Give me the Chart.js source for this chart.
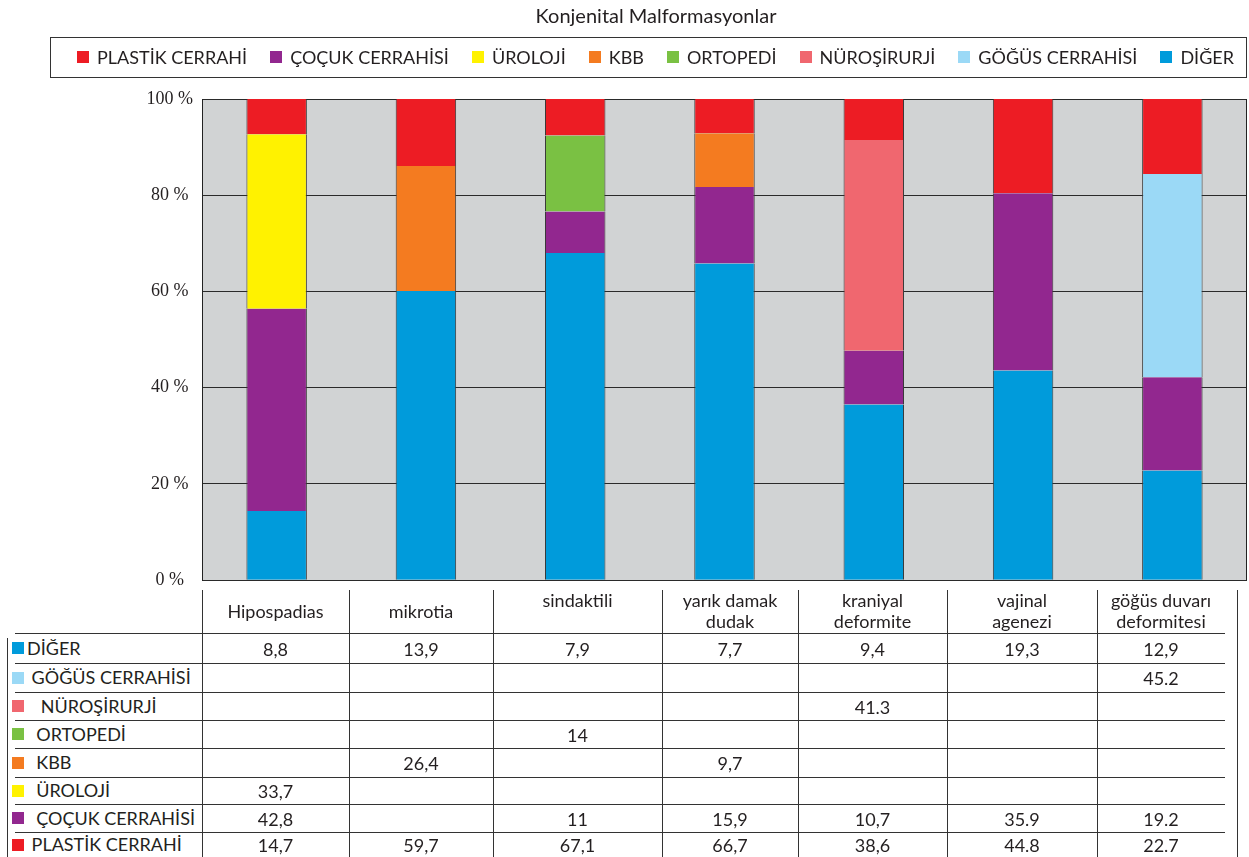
<!DOCTYPE html>
<html><head><meta charset="utf-8">
<script src="https://cdn.jsdelivr.net/npm/chart.js@4.4.0/dist/chart.umd.min.js"></script>
<style>
html,body{margin:0;padding:0;background:#fff;}
#wrap{position:relative;width:1249px;height:857px;overflow:hidden;font-family:Lato,'Open Sans',sans-serif;color:#231F20;}
#c{position:absolute;left:0;top:0;}
#title{position:absolute;left:0;width:1312px;top:3px;text-align:center;font-size:20px;}
#legend{position:absolute;left:50px;top:37px;width:1197px;height:41px;box-sizing:border-box;border:1.5px solid #333;display:flex;align-items:center;justify-content:space-between;padding:0 12px 2px 26px;font-size:18px;}
.li{display:flex;align-items:center;white-space:pre;}
.sw{width:12px;height:12px;margin-right:8px;flex:none;}
.cell{position:absolute;display:flex;align-items:center;justify-content:center;font-size:18px;white-space:pre;text-align:center;line-height:21px;}
.lab{justify-content:flex-start;}
.hl{position:absolute;height:1px;background:#333;}
.vl{position:absolute;width:1px;background:#333;}
</style></head>
<body><div id="wrap">
<canvas id="c" width="1249" height="600"></canvas>
<div id="title">Konjenital Malformasyonlar</div>
<div id="legend"></div>
<div id="table"></div>
</div>
<script>
// ---------- DATA ----------
const categories = ['Hipospadias', 'mikrotia', ['sindaktili', ''], ['yarık damak', 'dudak'], ['kraniyal', 'deformite'], ['vajinal', 'agenezi'], ['göğüs duvarı', 'deformitesi']];

// Bar segments as drawn (% of each bar), bottom to top
const barDiger    = [14.4, 60.1, 68.0, 65.8, 36.5, 43.6, 22.8];
const barCocuk    = [42.0, null, 8.6, 15.9, 11.2, 36.8, 19.4];
const barUroloji  = [36.3, null, null, null, null, null, null];
const barKbb      = [null, 26.0, null, 11.2, null, null, null];
const barOrtopedi = [null, null, 15.8, null, null, null, null];
const barNoro     = [null, null, null, null, 43.8, null, null];
const barGogus    = [null, null, null, null, null, null, 42.2];
const barPlastik  = [7.3, 13.9, 7.6, 7.1, 8.5, 19.6, 15.6];

const legendLabels = ['PLASTİK CERRAHİ', 'ÇOÇUK CERRAHİSİ', 'ÜROLOJİ', 'KBB', 'ORTOPEDİ', 'NÜROŞİRURJİ', 'GÖĞÜS CERRAHİSİ', 'DİĞER'];

// Data table (text as printed)
const tableLabels = ['DİĞER', ' GÖĞÜS CERRAHİSİ', '   NÜROŞİRURJİ', '  ORTOPEDİ', '  KBB', '  ÜROLOJİ', '  ÇOÇUK CERRAHİSİ', ' PLASTİK CERRAHİ'];
const tableDiger    = ['8,8', '13,9', '7,9', '7,7', '9,4', '19,3', '12,9'];
const tableGogus    = ['', '', '', '', '', '', '45.2'];
const tableNoro     = ['', '', '', '', '41.3', '', ''];
const tableOrtopedi = ['', '', '14', '', '', '', ''];
const tableKbb      = ['', '26,4', '', '9,7', '', '', ''];
const tableUroloji  = ['33,7', '', '', '', '', '', ''];
const tableCocuk    = ['42,8', '', '11', '15,9', '10,7', '35.9', '19.2'];
const tablePlastik  = ['14,7', '59,7', '67,1', '66,7', '38,6', '44.8', '22.7'];

const yTicks = [0, 20, 40, 60, 80, 100];

// ---------- STYLE ----------
const colors = {
  'PLASTİK CERRAHİ': '#ED1C24', 'ÇOÇUK CERRAHİSİ': '#92278F', 'ÜROLOJİ': '#FFF200', 'KBB': '#F47B20',
  'ORTOPEDİ': '#7AC143', 'NÜROŞİRURJİ': '#F0676F', 'GÖĞÜS CERRAHİSİ': '#9BD9F6', 'DİĞER': '#009BDB'
};

// ---------- CHART ----------
const series = [
  ['DİĞER', barDiger], ['ÇOÇUK CERRAHİSİ', barCocuk], ['ÜROLOJİ', barUroloji], ['KBB', barKbb],
  ['ORTOPEDİ', barOrtopedi], ['NÜROŞİRURJİ', barNoro], ['GÖĞÜS CERRAHİSİ', barGogus], ['PLASTİK CERRAHİ', barPlastik]
];

const framePlugin = {
  id: 'frame',
  beforeDraw(ch) {
    const a = ch.chartArea, ctx = ch.ctx;
    ctx.save(); ctx.fillStyle = '#D1D3D4';
    ctx.fillRect(a.left, a.top, a.right - a.left, a.bottom - a.top);
    ctx.restore();
  },
  beforeDatasetsDraw(ch) {
    const a = ch.chartArea, ctx = ch.ctx;
    ctx.save(); ctx.strokeStyle = '#222'; ctx.lineWidth = 1;
    ctx.beginPath(); ctx.moveTo(Math.round(a.right) - 0.5, a.top); ctx.lineTo(Math.round(a.right) - 0.5, a.bottom); ctx.stroke();
    ctx.restore();
  }
};

new Chart(document.getElementById('c'), {
  type: 'bar',
  data: {
    labels: categories,
    datasets: series.map(([name, vals]) => ({
      label: name, data: vals, backgroundColor: colors[name],
      borderColor: '#3a3a3a', borderWidth: {top: 0, bottom: 0, left: 1, right: 1}, borderSkipped: false,
      barPercentage: 0.405, categoryPercentage: 1
    }))
  },
  options: {
    responsive: false, devicePixelRatio: 1, animation: false,
    layout: {padding: {top: 99, bottom: 19, left: 0, right: 2}},
    plugins: {legend: {display: false}, tooltip: {enabled: false}, title: {display: false}},
    scales: {
      x: {stacked: true, display: false, offset: true},
      y: {
        stacked: true, min: 0, max: 100,
        afterBuildTicks: s => { s.ticks = yTicks.map(v => ({value: v})); },
        afterFit: s => { s.width = 202; },
        ticks: {padding: 9, crossAlign: 'center', color: '#231F20', font: {family: 'Liberation Serif', size: 18}, callback: v => v + ' %'},
        grid: {color: '#2a2a2a', lineWidth: 1, drawTicks: false},
        border: {display: true, color: '#222', width: 1}
      }
    }
  },
  plugins: [framePlugin]
});

// ---------- LEGEND ----------
const leg = document.getElementById('legend');
legendLabels.forEach(n => {
  const d = document.createElement('div'); d.className = 'li';
  const s = document.createElement('span'); s.className = 'sw'; s.style.background = colors[n];
  d.appendChild(s); d.appendChild(document.createTextNode(n)); leg.appendChild(d);
});

// ---------- TABLE ----------
const colEdges = [15, 202, 349, 493, 662, 798, 947, 1097, 1225];
const rowEdges = [590, 633, 663, 692, 720, 748, 777, 804, 832, 857];
const tableRows = [tableDiger, tableGogus, tableNoro, tableOrtopedi, tableKbb, tableUroloji, tableCocuk, tablePlastik];
const rowColorKeys = ['DİĞER', 'GÖĞÜS CERRAHİSİ', 'NÜROŞİRURJİ', 'ORTOPEDİ', 'KBB', 'ÜROLOJİ', 'ÇOÇUK CERRAHİSİ', 'PLASTİK CERRAHİ'];
const tb = document.getElementById('table');
function cell(x0, x1, y0, y1, html, cls) {
  const d = document.createElement('div'); d.className = 'cell' + (cls ? ' ' + cls : '');
  d.style.left = x0 + 'px'; d.style.width = (x1 - x0) + 'px'; d.style.top = y0 + 'px'; d.style.height = (y1 - y0) + 'px';
  if (typeof html === 'string') d.textContent = html; else d.appendChild(html);
  tb.appendChild(d);
}
// header
categories.forEach((c, i) => {
  const lines = Array.isArray(c) ? c : [c];
  const w = document.createElement('div');
  lines.forEach(l => { const s = document.createElement('div'); s.textContent = l || '\u00a0'; w.appendChild(s); });
  cell(colEdges[i + 1], colEdges[i + 2], rowEdges[0] - 1, rowEdges[1], w);
});
// rows
tableRows.forEach((vals, r) => {
  const y0 = rowEdges[r + 1], y1 = rowEdges[r + 2];
  const lw = document.createElement('div'); lw.style.display = 'flex'; lw.style.alignItems = 'center';
  const sw = document.createElement('span'); sw.className = 'sw'; sw.style.marginRight = '3px'; sw.style.background = colors[rowColorKeys[r]];
  lw.appendChild(sw); lw.appendChild(document.createTextNode(tableLabels[r]));
  cell(12, colEdges[1], y0, y1, lw, 'lab');
  vals.forEach((v, i) => cell(colEdges[i + 1], colEdges[i + 2], y0, y1 + 2, v));
});
// lines
for (let i = 1; i <= 7; i++) {
  const v = document.createElement('div'); v.className = 'vl';
  v.style.left = colEdges[i] + 'px'; v.style.top = rowEdges[0] + 'px'; v.style.height = (857 - rowEdges[0]) + 'px'; tb.appendChild(v);
}
for (let r = 1; r <= 8; r++) {
  const h = document.createElement('div'); h.className = 'hl';
  h.style.left = colEdges[0] + 'px'; h.style.width = (colEdges[8] - colEdges[0]) + 'px'; h.style.top = rowEdges[r] + 'px'; tb.appendChild(h);
}
[[7, 638], [1237, 590]].forEach(([x, y]) => {
  const v = document.createElement('div'); v.className = 'vl';
  v.style.left = x + 'px'; v.style.top = y + 'px'; v.style.height = (857 - y) + 'px'; tb.appendChild(v);
});
</script>
</body></html>
